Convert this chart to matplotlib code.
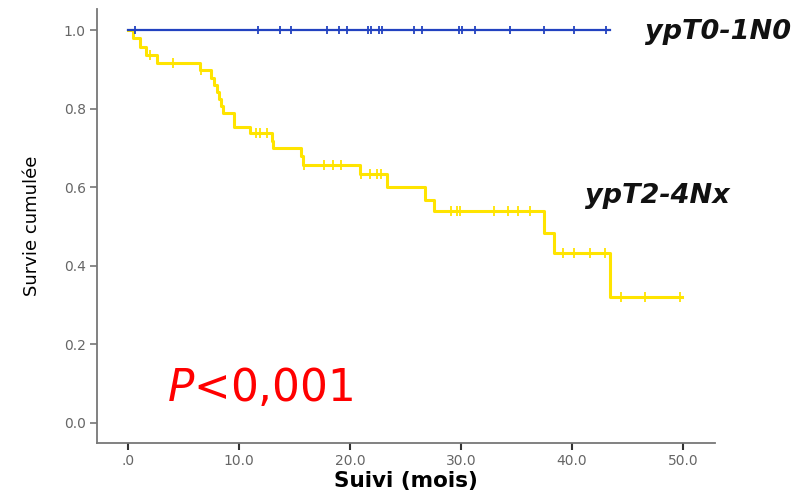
# Kaplan-Meier : survie cumulée selon ypT/N

import matplotlib.pyplot as plt

# groupe ypT0-1N0 : aucun événement, seulement des censures
bleu_fin = 43.4
bleu_censures = [0.6, 11.7, 13.7, 14.7, 17.9, 19.0, 19.7, 21.6, 21.9, 22.6, 22.9,
                 25.8, 26.5, 29.8, 30.1, 31.3, 34.4, 37.5, 40.2, 43.1]

# groupe ypT2-4Nx : temps des paliers et survie après chaque palier
jaune_temps = [0.0, 0.5, 1.1, 1.6, 2.6, 6.5, 7.5, 7.8, 8.0, 8.2, 8.4, 8.6,
               9.6, 11.0, 13.0, 13.1, 15.6, 15.8, 20.9, 23.3, 26.8, 27.6,
               37.5, 38.4, 43.4]
jaune_survie = [1.0, 0.979, 0.958, 0.937, 0.916, 0.899, 0.878, 0.860, 0.842,
                0.824, 0.806, 0.788, 0.754, 0.737, 0.718, 0.699, 0.678, 0.657,
                0.633, 0.600, 0.567, 0.538, 0.483, 0.431, 0.321]
jaune_fin = 49.9
jaune_censures = [1.95, 4.05, 6.6, 11.5, 11.9, 12.5, 15.9, 17.7, 18.5, 19.2,
                  21.0, 21.8, 22.4, 22.8, 29.1, 29.6, 29.9, 33.0, 34.2, 35.1,
                  36.2, 39.2, 40.2, 41.6, 43.0, 44.4, 46.6, 49.7]

xticks = [0, 10, 20, 30, 40, 50]
xlabels = ['.0', '10.0', '20.0', '30.0', '40.0', '50.0']
yticks = [0.0, 0.2, 0.4, 0.6, 0.8, 1.0]
ylabels = ['0.0', '0.2', '0.4', '0.6', '0.8', '1.0']


def survie_a(t, temps, survie):
    s = survie[0]
    for ti, si in zip(temps, survie):
        if ti <= t:
            s = si
    return s


fig = plt.figure(figsize=(8, 4.95), dpi=100)
ax = fig.add_axes([0.121, 0.105, 0.773, 0.877])

bleu = '#2242c0'
jaune = '#ffe400'

# courbe bleue
ax.plot([0, bleu_fin], [1.0, 1.0], color=bleu, linewidth=1.6, zorder=3)
ax.plot(bleu_censures, [1.0] * len(bleu_censures), linestyle='none',
        marker='|', markersize=6, markeredgewidth=1.3, color=bleu, zorder=3)

# courbe jaune en escalier
xs = jaune_temps + [jaune_fin]
ys = jaune_survie + [jaune_survie[-1]]
ax.step(xs, ys, where='post', color=jaune, linewidth=2.2, zorder=2)
cy = [survie_a(t, jaune_temps, jaune_survie) for t in jaune_censures]
ax.plot(jaune_censures, cy, linestyle='none', marker='|', markersize=7,
        markeredgewidth=1.3, color=jaune, zorder=2)

ax.set_xlim(-2.8, 52.9)
ax.set_ylim(-0.052, 1.054)

for s in ['top', 'right']:
    ax.spines[s].set_visible(False)
for s in ['left', 'bottom']:
    ax.spines[s].set_color('#777777')
    ax.spines[s].set_linewidth(1.3)

ax.set_xticks(xticks)
ax.set_xticklabels(xlabels)
ax.set_yticks(yticks)
ax.set_yticklabels(ylabels)
ax.tick_params(axis='y', direction='out', length=5, width=1.2, color='#777777',
               labelcolor='#666666', labelsize=10, pad=3)
ax.tick_params(axis='x', direction='out', length=5, width=1.5, color='#333333',
               labelcolor='#666666', labelsize=10, pad=3)

ax.set_xlabel('Suivi (mois)', fontsize=15.5, fontweight='bold', family='DejaVu Sans',
              labelpad=2)
ax.set_ylabel('Survie cumulée', fontsize=13,
              family=['Liberation Sans Narrow', 'DejaVu Sans'], labelpad=16)

ax.text(0.806, 0.936, 'ypT0-1N0', transform=fig.transFigure, fontsize=19.5,
        fontweight='bold', fontstyle='italic', family='DejaVu Sans',
        ha='left', va='center', color='#111111')
ax.text(0.731, 0.604, 'ypT2-4Nx', transform=fig.transFigure, fontsize=19.5,
        fontweight='bold', fontstyle='italic', family='DejaVu Sans',
        ha='left', va='center', color='#111111')
ax.text(0.209, 0.216, r'$\it{P}$<0,001', transform=fig.transFigure, fontsize=31.5,
        family='DejaVu Sans', color='#ff0000', ha='left', va='center')

plt.savefig('out.png', dpi=100)
